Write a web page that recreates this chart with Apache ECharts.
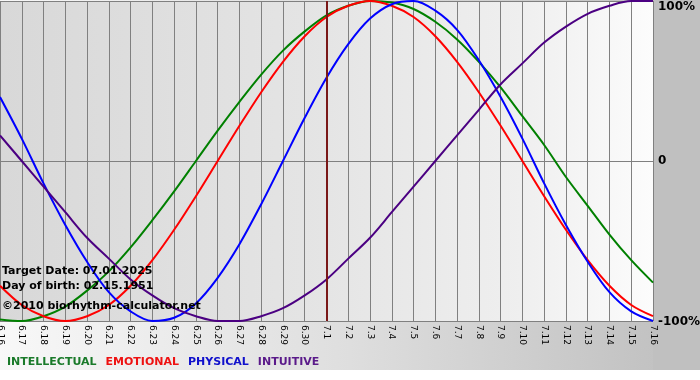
<!DOCTYPE html>
<html>
<head>
<meta charset="utf-8">
<script src="https://cdn.jsdelivr.net/npm/echarts@6/dist/echarts.min.js"></script>
<style>
html,body{margin:0;padding:0;background:#ffffff;}
#chart{width:700px;height:380px;}
</style>
</head>
<body>
<div id="chart"></div>
<script>
// Dates on the x axis
const dates = ['6.16','6.17','6.18','6.19','6.20','6.21','6.22','6.23','6.24','6.25','6.26','6.27','6.28','6.29','6.30',
  '7.1','7.2','7.3','7.4','7.5','7.6','7.7','7.8','7.9','7.10','7.11','7.12','7.13','7.14','7.15','7.16'];
// Values in percent
const intellectual = [-99,-100,-97,-91,-81,-69,-54,-37,-19,0,19,37,54,69,81,91,97,100,99,95,87,76,62,46,28,10,-10,-28,-46,-62,-76];
const emotional = [-78,-90,-97,-100,-97,-90,-78,-62,-43,-22,0,22,43,62,78,90,97,100,97,90,78,62,43,22,0,-22,-43,-62,-78,-90,-97];
const physical = [40,14,-14,-40,-63,-82,-94,-100,-98,-89,-73,-52,-27,0,27,52,73,89,98,100,94,82,63,40,14,-14,-40,-63,-82,-94,-100];
const intuitive = [16,0,-16,-32,-48,-61,-74,-84,-92,-97,-100,-100,-97,-92,-84,-74,-61,-48,-32,-16,0,16,32,48,61,74,84,92,97,100,100];
const seriesNames = ['INTELLECTUAL','EMOTIONAL','PHYSICAL','INTUITIVE'];
const yTicks = [-100, 0, 100];
const targetDate = '7.1';
const infoLines = ['Target Date: 07.01.2025', 'Day of birth: 02.15.1951', '\u00a92010 biorhythm-calculator.net'];

const colors = ['#008000', '#ff0000', '#0000ff', '#4b0082'];
const legendColors = ['#1a7a2a', '#ee1111', '#1010cc', '#5a1a8a'];
const valuesList = [intellectual, emotional, physical, intuitive];

const chart = echarts.init(document.getElementById('chart'), null, {renderer: 'canvas'});

const series = seriesNames.map((n, i) => ({
  name: n,
  type: 'line',
  data: valuesList[i],
  smooth: 0.33,
  symbol: 'none',
  lineStyle: {color: colors[i], width: 2},
  itemStyle: {color: colors[i]},
  z: 3
}));
series[0].markLine = {
  silent: true,
  symbol: 'none',
  label: {show: false},
  lineStyle: {color: '#7a1818', width: 2, type: 'solid'},
  data: [{xAxis: targetDate}],
  z: 4
};

const yLabel = v => v === 100 ? '{t|100%}' : (v === -100 ? '{b|-100%}' : '{m|' + v + '}');

chart.setOption({
  animation: false,
  backgroundColor: '#ffffff',
  textStyle: {fontFamily: 'DejaVu Sans'},
  graphic: [
    {type: 'rect', z: -20, silent: true, shape: {x: 0, y: 0, width: 700, height: 370},
     style: {fill: new echarts.graphic.LinearGradient(0, 0, 1, 0, [
       {offset: 0, color: '#f8f8f8'}, {offset: 0.5, color: '#dedede'}, {offset: 0.92, color: '#c3c3c3'}, {offset: 1, color: '#c0c0c0'}])}},
    {type: 'rect', z: -19, silent: true, shape: {x: 653, y: 0, width: 47, height: 370}, style: {fill: '#c0c0c0'}},
    ...infoLines.map((t, i) => ({
      type: 'text', z: 100, silent: true, left: 2, top: [266, 281, 301][i],
      style: {text: t, fill: '#000000', font: 'bold 11px "DejaVu Sans"'}
    }))
  ],
  grid: {
    left: 0, right: 47, top: 1, bottom: 59, show: true, borderWidth: 0,
    containLabel: false, outerBoundsMode: 'none',
    backgroundColor: new echarts.graphic.LinearGradient(0, 0, 1, 0, [
      {offset: 0, color: '#d8d8d8'}, {offset: 0.5, color: '#e5e5e5'}, {offset: 0.8, color: '#efefef'}, {offset: 1, color: '#fcfcfc'}])
  },
  legend: {
    left: -3, top: 352, itemWidth: 0, itemHeight: 0, itemGap: 4, icon: 'none',
    selectedMode: false,
    textStyle: {fontSize: 11, fontWeight: 'bold', fontFamily: 'DejaVu Sans'},
    data: seriesNames.map((n, i) => ({name: n, textStyle: {color: legendColors[i]}}))
  },
  xAxis: {
    type: 'category', data: dates, boundaryGap: false,
    axisLine: {show: true, lineStyle: {color: '#808080', width: 1}},
    axisTick: {show: true, length: 4, interval: 0, lineStyle: {color: '#808080'}},
    splitLine: {show: true, interval: 0, lineStyle: {color: '#808080', width: 1}},
    axisLabel: {interval: 0, rotate: -90, fontSize: 9, color: '#000000', margin: 4, fontFamily: 'DejaVu Sans'}
  },
  yAxis: {
    type: 'value', position: 'right', min: yTicks[0], max: yTicks[2], interval: 100,
    axisLine: {show: false}, axisTick: {show: false},
    splitLine: {show: true, lineStyle: {color: '#808080', width: 1}},
    axisLabel: {
      margin: 5, color: '#000000', formatter: yLabel,
      rich: {
        t: {fontSize: 12, fontWeight: 'bold', fontFamily: 'DejaVu Sans', padding: [12, 0, 0, 0]},
        m: {fontSize: 12, fontWeight: 'bold', fontFamily: 'DejaVu Sans'},
        b: {fontSize: 12, fontWeight: 'bold', fontFamily: 'DejaVu Sans', padding: [2, 0, 0, 0]}
      }
    }
  },
  series: series
});
</script>
</body>
</html>
